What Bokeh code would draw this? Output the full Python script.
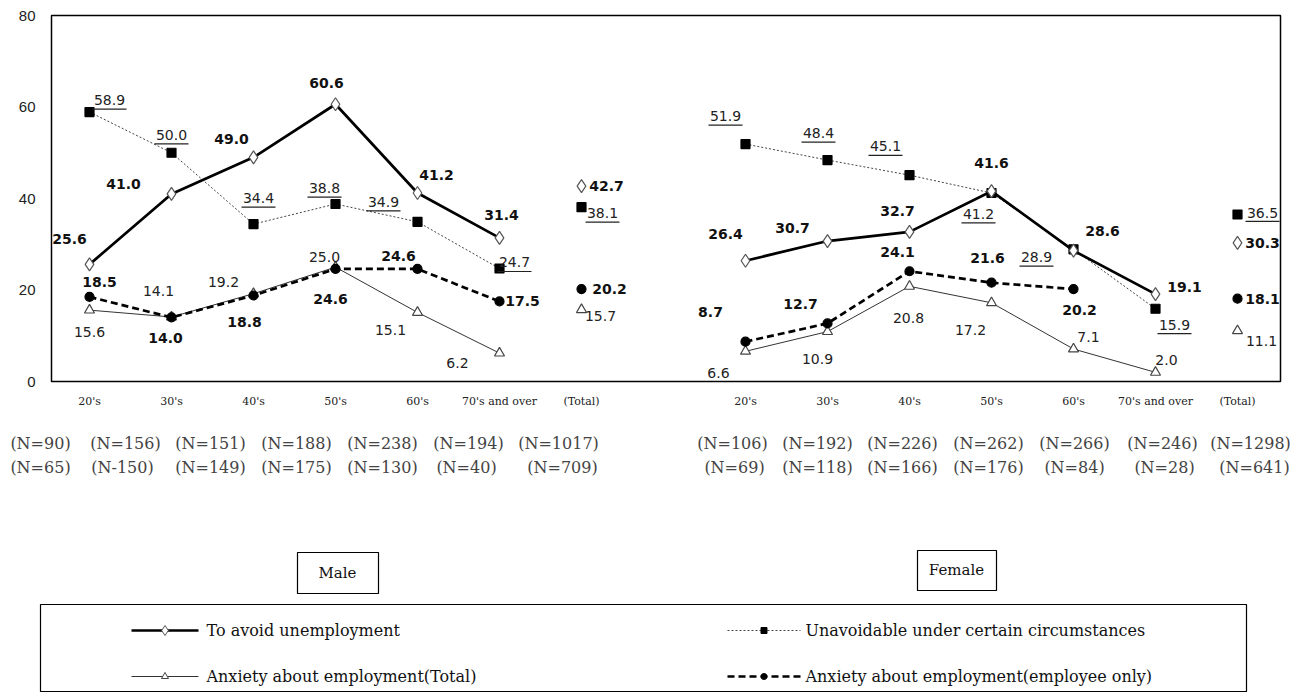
from bokeh.plotting import figure
from bokeh.models import Range1d, FixedTicker, ColumnDataSource
from bokeh.layouts import column
from bokeh.core.properties import value
from bokeh.embed import file_html
from bokeh.resources import INLINE

NaN = float("nan")

# ---------------- data ----------------
age_groups = ["20's", "30's", "40's", "50's", "60's", "70's and over", "(Total)"]

male_avoid = [25.6, 41.0, 49.0, 60.6, 41.2, 31.4, 42.7]
male_unavoid = [58.9, 50.0, 34.4, 38.8, 34.9, 24.7, 38.1]
male_anx_total = [15.6, 14.1, 19.2, 25.0, 15.1, 6.2, 15.7]
male_anx_emp = [18.5, 14.0, 18.8, 24.6, 24.6, 17.5, 20.2]

female_avoid = [26.4, 30.7, 32.7, 41.6, 28.6, 19.1, 30.3]
female_unavoid = [51.9, 48.4, 45.1, 41.2, 28.9, 15.9, 36.5]
female_anx_total = [6.6, 10.9, 20.8, 17.2, 7.1, 2.0, 11.1]
female_anx_emp = [8.7, 12.7, 24.1, 21.6, 20.2, NaN, 18.1]

male_n_all = ["(N=90)", "(N=156)", "(N=151)", "(N=188)", "(N=238)", "(N=194)", "(N=1017)"]
male_n_emp = ["(N=65)", "(N-150)", "(N=149)", "(N=175)", "(N=130)", "(N=40)", "(N=709)"]
female_n_all = ["(N=106)", "(N=192)", "(N=226)", "(N=262)", "(N=266)", "(N=246)", "(N=1298)"]
female_n_emp = ["(N=69)", "(N=118)", "(N=166)", "(N=176)", "(N=84)", "(N=28)", "(N=641)"]

series_names = ["To avoid unemployment",
                "Unavoidable under certain circumstances",
                "Anxiety about employment(Total)",
                "Anxiety about employment(employee only)"]
group_names = ["Male", "Female"]

# ---------------- layout / style ----------------
W = 1290
B_L, B_R, B_T, B_B = 51, 10, 15, 27
FRAME_H = 368
TOP_H = B_T + FRAME_H + B_B
FW = W - B_L - B_R
PXX = 82.0
X0 = -38.0 / PXX
X1 = X0 + FW / PXX
PXY = FRAME_H / 80.0
FEMALE_SHIFT = 8

# label offsets (pixels; dx right, dy down)
off = {
    ("M", "avoid"): [(-20, -25), (-48, -10), (-22, -18), (-9, -21), (19, -18), (2, -23), (25, 0)],
    ("M", "unavoid"): [(20, -12), (0, -18), (5, -26), (-11, -16), (-34, -20), (15, -6), (21, 6)],
    ("M", "anx_total"): [(0, 22), (-13, -26), (-30, -12), (-11, -10), (-27, 18), (-42, 10), (19, 6)],
    ("M", "anx_emp"): [(10, -15), (-6, 21), (-9, 27), (-5, 30), (-19, -13), (23, 0), (28, 0)],
    ("F", "avoid"): [(-20, -27), (-35, -13), (-12, -21), (0, -28), (29, -20), (29, -7), (25, 0)],
    ("F", "unavoid"): [(-20, -28), (-9, -27), (-24, -29), (-13, 21), (-37, 8), (19, 16), (25, -2)],
    ("F", "anx_total"): [(-27, 22), (-10, 27), (-1, 32), (-21, 27), (15, -12), (11, -12), (24, 10)],
    ("F", "anx_emp"): [(-35, -30), (-27, -19), (-12, -19), (-4, -25), (6, 21), (0, 0), (25, 0)],
}

style = {
    "avoid": dict(lw=2.7, dash="solid", lc="black", marker="diamond", size=13, fill="white", mline="#555555", bold=True),
    "unavoid": dict(lw=1.0, dash="2 2", lc="#444444", marker="square", size=9, fill="black", mline="black", bold=False),
    "anx_total": dict(lw=1.0, dash="solid", lc="#333333", marker="triangle", size=10, fill="white", mline="#444444", bold=False),
    "anx_emp": dict(lw=2.7, dash="7 4", lc="black", marker="circle", size=9, fill="black", mline="black", bold=True),
}

data = {
    ("M", "avoid"): male_avoid, ("M", "unavoid"): male_unavoid,
    ("M", "anx_total"): male_anx_total, ("M", "anx_emp"): male_anx_emp,
    ("F", "avoid"): female_avoid, ("F", "unavoid"): female_unavoid,
    ("F", "anx_total"): female_anx_total, ("F", "anx_emp"): female_anx_emp,
}

cats = list(range(len(age_groups)))
pos = {"M": cats, "F": [c + FEMALE_SHIFT for c in cats]}

p = figure(width=W, height=TOP_H, x_range=Range1d(X0, X1), y_range=Range1d(0, 80),
           output_backend="svg", toolbar_location=None,
           min_border_left=B_L, min_border_right=B_R, min_border_top=B_T, min_border_bottom=B_B)
p.frame_align = False
p.outline_line_color = "black"
p.outline_line_width = 1.5
p.outline_line_alpha = 1.0
p.xgrid.visible = False
p.ygrid.visible = False

p.yaxis.ticker = FixedTicker(ticks=[0, 20, 40, 60, 80])
p.yaxis.major_tick_line_color = None
p.yaxis.minor_tick_line_color = None
p.yaxis.axis_line_color = None
p.yaxis.major_label_text_font = "Liberation Sans"
p.yaxis.major_label_text_font_size = "15px"
p.yaxis.major_label_text_color = "#222222"
p.yaxis.major_label_standoff = 10

ticks = pos["M"] + pos["F"]
p.xaxis.ticker = FixedTicker(ticks=ticks)
p.xaxis.major_label_overrides = {t: age_groups[i % 7] for i, t in enumerate(ticks)}
p.xaxis.major_tick_line_color = None
p.xaxis.minor_tick_line_color = None
p.xaxis.axis_line_color = None
p.xaxis.major_label_text_font = "DejaVu Serif"
p.xaxis.major_label_text_font_size = "11px"
p.xaxis.major_label_text_color = "#222222"
p.xaxis.major_label_standoff = 7

order = ["unavoid", "avoid", "anx_total", "anx_emp"]
for g in ["M", "F"]:
    for s in order:
        st = style[s]
        vals = data[(g, s)]
        xs = pos[g]
        p.line(xs[:6], vals[:6], line_width=st["lw"], line_dash=st["dash"], line_color=st["lc"])
for g in ["M", "F"]:
    for s in order:
        st = style[s]
        vals = data[(g, s)]
        xs = pos[g]
        p.scatter(xs, vals, marker=st["marker"], size=st["size"], fill_color=st["fill"],
                  line_color=st["mline"], line_width=1.2)

for g in ["M", "F"]:
    for s in order:
        st = style[s]
        vals = data[(g, s)]
        xs = pos[g]
        o = off[(g, s)]
        rows = [(xs[i], v, o[i][0], o[i][1], "%.1f" % v) for i, v in enumerate(vals) if v == v]
        src = ColumnDataSource(dict(x=[r[0] for r in rows], y=[r[1] for r in rows],
                                    dx=[r[2] for r in rows], dy=[r[3] for r in rows],
                                    t=[r[4] for r in rows]))
        p.text(x="x", y="y", text="t", x_offset="dx", y_offset="dy", source=src,
               text_align="center", text_baseline="middle",
               text_font=value("DejaVu Sans"), text_font_size="14px",
               text_font_style="bold" if st["bold"] else "normal",
               text_color="#111111" if st["bold"] else "#222222")
        if s == "unavoid":
            hw = 17
            p.segment(x0=[r[0] + (r[2] - hw) / PXX for r in rows],
                      x1=[r[0] + (r[2] + hw) / PXX for r in rows],
                      y0=[r[1] - (r[3] + 9) / PXY for r in rows],
                      y1=[r[1] - (r[3] + 9) / PXY for r in rows],
                      line_color="#222222", line_width=1.2)

# ---------------- lower panel: N counts, group boxes, legend ----------------
BOT_H = 692 - TOP_H
q = figure(width=W, height=BOT_H, x_range=Range1d(0, W), y_range=Range1d(TOP_H + BOT_H, TOP_H),
           output_backend="svg", toolbar_location=None, min_border=0,
           min_border_left=0, min_border_right=0, min_border_top=0, min_border_bottom=0,
           x_axis_location=None, y_axis_location=None)
q.frame_align = False
q.outline_line_color = None
q.xgrid.visible = False
q.ygrid.visible = False

n_x_m1 = [40, 125, 210, 296, 382, 468, 558]
n_x_m2 = [40, 122, 210, 296, 382, 466, 562]
n_x_f1 = [732, 817, 902, 988, 1074, 1162, 1250]
n_x_f2 = [734, 817, 902, 988, 1074, 1164, 1254]
ROW1, ROW2 = 443, 467
q.text(x=n_x_m1 + n_x_f1, y=[ROW1] * 14, text=male_n_all + female_n_all,
       text_align="center", text_baseline="middle", text_font=value("DejaVu Serif"),
       text_font_size="16px", text_color="#444444")
q.text(x=n_x_m2 + n_x_f2, y=[ROW2] * 14, text=male_n_emp + female_n_emp,
       text_align="center", text_baseline="middle", text_font=value("DejaVu Serif"),
       text_font_size="16px", text_color="#444444")

# group boxes
q.quad(left=[297, 917], right=[378, 996], top=[552, 550], bottom=[593, 590],
       fill_color=None, line_color="black", line_width=1.2)
q.text(x=[337, 956], y=[572, 569], text=group_names, text_align="center", text_baseline="middle",
       text_font=value("DejaVu Serif"), text_font_size="15px", text_color="#111111")

# legend box
q.quad(left=[40], right=[1246], top=[604], bottom=[691], fill_color=None, line_color="black", line_width=1.2)
LR1, LR2 = 630, 676
leg = [("avoid", 131, 198, LR1, 206), ("unavoid", 727, 800, LR1, 805),
       ("anx_total", 131, 198, LR2, 206), ("anx_emp", 727, 800, LR2, 805)]
name_of = {"avoid": series_names[0], "unavoid": series_names[1],
           "anx_total": series_names[2], "anx_emp": series_names[3]}
for s, xa, xb, yy, tx in leg:
    st = style[s]
    q.line([xa, xb], [yy, yy], line_width=st["lw"], line_dash=st["dash"], line_color=st["lc"])
    q.scatter([(xa + xb) / 2], [yy], marker=st["marker"], size=st["size"] - 3, fill_color=st["fill"],
              line_color=st["mline"], line_width=1)
    q.text(x=[tx], y=[yy], text=[name_of[s]], text_align="left", text_baseline="middle",
           text_font=value("DejaVu Serif"), text_font_size="16px", text_color="#111111")

layout = column(p, q, spacing=0)
open("out.html", "w").write(file_html(layout, INLINE))
